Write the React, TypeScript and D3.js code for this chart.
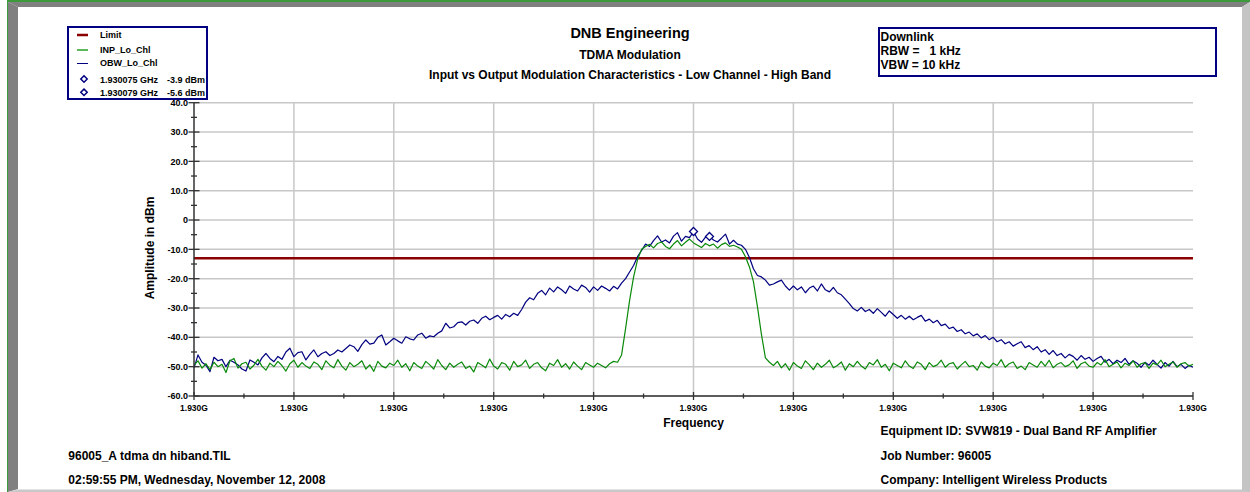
import React from 'react';
import * as d3 from 'd3';

// Sweep grid (GHz)
const sweepStartGHz = 1.92995;
const sweepStepGHz = 0.000001;
const axisMinGHz = 1.92995;
const axisMaxGHz = 1.9302;
const xMajorStepGHz = 0.000025;

const yMin = -60;
const yMax = 40;
const yTickValues = [40, 30, 20, 10, 0, -10, -20, -30, -40, -50, -60];

const limitDbm = -13;

// OBW_Lo_Chl (output), dBm, one value per sweep point
const obwLoChl = [
  -50.5, -46, -48.5, -49.5, -51.7, -46.8, -48, -47.5, -50, -47.8,
  -48.5, -49.4, -50.8, -51.5, -47.7, -48.5, -49.4, -47, -45.5, -47.2,
  -48.3, -46.5, -47.5, -45, -43.7, -46.6, -45.2, -44.9, -47.7, -45.8,
  -44.3, -46.6, -45.5, -44.9, -46.2, -45.5, -44.3, -45, -43.8, -42.6,
  -43.2, -44.8, -42.5, -40.9, -42.3, -42, -40, -39.2, -42.6, -41.5,
  -40.3, -41.2, -42, -39.8, -40.5, -40.9, -39.2, -38.6, -40.3, -39.5,
  -39.8, -38.6, -37.8, -35.2, -36.8, -36.4, -35, -34.7, -35.8, -34.5,
  -34.1, -35.2, -33.5, -32.8, -34, -33.2, -32.5, -33.8, -32.2, -33,
  -31.8, -32.5, -30.5, -28, -26.5, -27.2, -25, -24, -25.5, -23.2,
  -24.5, -22.8, -23.8, -25, -22.5, -23.5, -24.2, -22.2, -23, -24.6,
  -22.8, -24, -22.5, -23.3, -24.2, -22.6, -23.5, -21.5, -20, -17.7,
  -15.5, -12.5, -10.4, -8.2, -9, -7, -5.4, -7.5, -6.8, -7.8,
  -5.5, -4.3, -7.2, -5.6, -6, -3.9, -6.5, -7.6, -5.8, -5.6,
  -6.8, -7.5, -6.2, -4.8, -8.2, -6.9, -8.2, -8.6, -10, -12.8,
  -16.6, -18.9, -19.4, -20.5, -22.2, -21.8, -21.1, -20.5, -22.5, -23.9,
  -22.5, -23.8, -22.8, -24.8, -23.2, -22.5, -24.2, -21.8, -23.8, -24.5,
  -23, -24.8, -25.5, -27, -28.5, -30.2, -31, -29.8, -31.2, -30.5,
  -31.8, -30.2, -31.5, -32.8, -31, -32.2, -33.5, -32.5, -33.8, -32.8,
  -34, -33.2, -32.5, -34.5, -33.8, -35, -34.2, -36, -35.5, -37,
  -36.5, -38, -37.4, -38.8, -38.2, -39.5, -38.8, -40.2, -39.4, -40.8,
  -40, -41.5, -40.8, -42.2, -41.5, -43, -42.2, -41.5, -43.5, -42.8,
  -44.2, -43.2, -45, -44.2, -45.8, -44.5, -46.2, -45.5, -47, -45.8,
  -46.5, -47.8, -46.2, -47.5, -46.8, -48.2, -47.2, -46.5, -48.5, -47.5,
  -49, -47.8, -48.6, -47.2, -49.2, -48, -48.8, -50.2, -48.5, -49.5,
  -47.8, -49.2, -50.5, -48.6, -49.8, -48.2, -50, -49.2, -50.6, -49.5,
  -50.2,
];

// INP_Lo_Chl (input), dBm
const inpLoChl = [
  -49.5, -48, -50.5, -49, -51, -48.5, -50, -49.2, -52, -48,
  -47.2, -50.5, -49, -48.5, -50.8, -49.5, -47.5, -49.8, -51.2, -48.8,
  -50, -48.2, -49.6, -51.5, -49, -47.8, -50.2, -48.6, -49.8, -50.6,
  -48.4, -49.2, -51, -48, -49.5, -50.4, -47.6, -49.8, -51.2, -48.6,
  -50, -49.2, -48, -50.8, -49.4, -51.6, -48.2, -49.8, -50.4, -48.8,
  -49.6, -47.8, -50.2, -49, -51.4, -48.6, -49.8, -50.6, -48.2, -49.4,
  -50.8, -47.6, -49.6, -51, -48.8, -50.2, -49.2, -48.4, -50.6, -49.8,
  -51.8, -48.6, -49.4, -50.4, -47.4, -49.8, -50.8, -48.6, -49.2, -51.2,
  -48.2, -50, -49.4, -47.8, -50.6, -49.2, -48.6, -50.4, -51.4, -48.8,
  -49.6, -47.6, -50.2, -49, -50.8, -48.4, -49.8, -51, -48.6, -49.4,
  -50.2, -48.8, -49.6, -50.4, -49, -48.2, -48.5, -46, -37, -27.5,
  -19.5, -13.5, -10, -9, -8.3, -9.5, -8, -7.5, -9, -9.8,
  -8.2, -7, -8.8, -7.6, -6.5, -7.8, -8.6, -9.4, -8, -8.8,
  -8.2, -9.6, -8.4, -7.8, -9, -8.6, -9.2, -10, -12.5, -16,
  -21, -29.5, -39, -47, -48.5, -49.6, -48.2, -50.4, -49, -51.2,
  -48.6, -49.8, -50.6, -48, -49.4, -51, -48.8, -50.2, -49.2, -47.8,
  -50.4, -49.6, -48.4, -51.2, -49, -50, -48.2, -49.8, -50.8, -48.6,
  -49.4, -47.6, -50.2, -49.2, -51.4, -48.8, -49.6, -50.4, -48, -49.8,
  -50.6, -48.4, -49.2, -51, -48.6, -50, -49.4, -47.8, -50.2, -49,
  -48.6, -50.8, -49.4, -48.2, -50, -49.6, -51.2, -48.4, -49.8, -50.4,
  -48.8, -49.6, -47.6, -50.2, -49, -48.4, -50.6, -49.8, -51, -48.6,
  -49.4, -50.2, -48.2, -49.8, -47.8, -50.4, -49.2, -48.6, -50, -49.4,
  -48, -50.6, -49, -48.4, -49.8, -50.2, -48.6, -49.4, -47.6, -50,
  -49.2, -48.4, -50.4, -48.8, -49.6, -48, -50.2, -49, -48.6, -50.6,
  -48.8, -49.4, -47.8, -50, -49.2, -48.4, -50.2, -49, -48.6, -49.8,
  -49.2,
];

const markerFreqsGHz = [1.930075, 1.930079];
const markerLevelsDbm = [-3.9, -5.6];

const seriesNames = ['Limit', 'INP_Lo_Chl', 'OBW_Lo_Chl'];

const titleLines = [
  'DNB Engineering',
  'TDMA Modulation',
  'Input vs Output Modulation Characteristics - Low Channel - High Band',
];
const infoBoxLines = ['Downlink', 'RBW =   1 kHz', 'VBW = 10 kHz'];
const footerLeft = ['96005_A tdma dn hiband.TIL', '02:59:55 PM, Wednesday, November 12, 2008'];
const footerRight = [
  'Equipment ID: SVW819 - Dual Band RF Amplifier',
  'Job Number: 96005',
  'Company: Intelligent Wireless Products',
];

const FONT = "'Liberation Sans', Arial, Helvetica, sans-serif";
const NAVY = '#000080';
const GREEN = '#0a8a0a';
const LIMIT_RED = '#8b0000';
const GRID = '#c8c8c8';
const AXIS = '#333333';

export default function App() {
  const W = 1250;
  const H = 492;
  const plot = { left: 194, right: 1193, top: 102.7, bottom: 396 };

  const x = d3.scaleLinear().domain([axisMinGHz, axisMaxGHz]).range([plot.left, plot.right]);
  const y = d3.scaleLinear().domain([yMin, yMax]).range([plot.bottom, plot.top]);

  const freqAt = (i: number) => sweepStartGHz + i * sweepStepGHz;
  const line = d3
    .line<number>()
    .x((_, i) => x(freqAt(i)))
    .y((d) => y(d));

  const nMajor = Math.round((axisMaxGHz - axisMinGHz) / xMajorStepGHz);
  const xMajor = d3.range(nMajor + 1).map((i) => axisMinGHz + i * xMajorStepGHz);
  const xMinor = d3.range(nMajor).map((i) => axisMinGHz + (i + 0.5) * xMajorStepGHz);
  const yMinor = d3.range(yMin + 5, yMax, 10);
  const fmtX = (v: number) => d3.format('.3f')(v) + 'G';
  const fmtY = (v: number) => (v === 0 ? '0' : v.toFixed(1));

  const diamond = (cx: number, cy: number, r: number) =>
    `M${cx},${cy - r}L${cx + r},${cy}L${cx},${cy + r}L${cx - r},${cy}Z`;

  return (
    <div style={{ position: 'absolute', left: 0, top: 0 }}>
      <svg width={W} height={H} style={{ display: 'block' }} fontFamily={FONT}>
        <rect x={0} y={0} width={W} height={H} fill="#ffffff" />
        {/* frame */}
        <polygon points="8,2 1250,2 1242,7 18,7" fill="#808080" />
        <polygon points="8,2 18,7 18,489 8,492" fill="#808080" />
        <polygon points="1242,7 1250,2 1250,492 1242,492" fill="#c4c4c4" />
        <polygon points="8,492 18,489.5 1242,489.5 1250,492" fill="#c8c8c8" />
        <rect x={7} y={0} width={1243} height={2} fill="#3c9a3c" />
        <rect x={7} y={0} width={1} height={492} fill="#3c9a3c" />

        {/* titles */}
        <text x={630} y={38} textAnchor="middle" fontWeight="bold" fontSize={14.5}>
          {titleLines[0]}
        </text>
        <text x={630} y={59} textAnchor="middle" fontWeight="bold" fontSize={12}>
          {titleLines[1]}
        </text>
        <text x={630} y={79} textAnchor="middle" fontWeight="bold" fontSize={12}>
          {titleLines[2]}
        </text>

        {/* info box */}
        <rect x={879} y={28} width={337} height={48} fill="#fff" stroke={NAVY} strokeWidth={2} />
        {infoBoxLines.map((t, i) => (
          <text key={t} x={880.5} y={40.5 + i * 14} fontWeight="bold" fontSize={12} xmlSpace="preserve" style={{ whiteSpace: 'pre' }}>
            {t}
          </text>
        ))}

        {/* grid */}
        {xMajor.slice(1, -1).map((v) => (
          <line key={'gx' + v} x1={x(v)} x2={x(v)} y1={plot.top} y2={plot.bottom} stroke={GRID} strokeWidth={1.5} />
        ))}
        {yTickValues.map((v) => (
          <line key={'gy' + v} x1={plot.left} x2={plot.right} y1={y(v)} y2={y(v)} stroke={GRID} strokeWidth={1.5} />
        ))}

        {/* limit */}
        <line x1={plot.left} x2={plot.right} y1={y(limitDbm)} y2={y(limitDbm)} stroke={LIMIT_RED} strokeWidth={2.5} />

        {/* traces */}
        <path d={line(obwLoChl) || ''} fill="none" stroke={NAVY} strokeWidth={1.2} strokeLinejoin="round" />
        <path d={line(inpLoChl) || ''} fill="none" stroke={GREEN} strokeWidth={1.2} strokeLinejoin="round" />

        {/* markers */}
        {markerFreqsGHz.map((f, i) => (
          <path key={'mk' + i} d={diamond(x(f), y(markerLevelsDbm[i]), 4)} fill="#fff" stroke={NAVY} strokeWidth={1.3} />
        ))}

        {/* axes */}
        <line x1={plot.left} x2={plot.left} y1={plot.top} y2={plot.bottom} stroke={AXIS} strokeWidth={1.5} />
        <line x1={plot.left} x2={plot.right} y1={plot.bottom} y2={plot.bottom} stroke={AXIS} strokeWidth={1.5} />
        {yTickValues.map((v) => (
          <g key={'ty' + v}>
            <line x1={188.5} x2={199.5} y1={y(v)} y2={y(v)} stroke={AXIS} strokeWidth={1.3} />
            <text x={188} y={y(v)} dy="0.35em" textAnchor="end" fontWeight="bold" fontSize={9}>
              {fmtY(v)}
            </text>
          </g>
        ))}
        {yMinor.map((v) => (
          <line key={'my' + v} x1={191} x2={197} y1={y(v)} y2={y(v)} stroke={AXIS} strokeWidth={1.3} />
        ))}
        {xMajor.map((v, i) => (
          <g key={'tx' + i}>
            <line x1={x(v)} x2={x(v)} y1={392} y2={400} stroke={AXIS} strokeWidth={1.3} />
            <text x={x(v)} y={411.3} textAnchor="middle" fontWeight="bold" fontSize={8.5}>
              {fmtX(v)}
            </text>
          </g>
        ))}
        {xMinor.map((v, i) => (
          <line key={'mx' + i} x1={x(v)} x2={x(v)} y1={393.5} y2={398.5} stroke={AXIS} strokeWidth={1.3} />
        ))}

        {/* axis titles */}
        <text x={693.5} y={427.3} textAnchor="middle" fontWeight="bold" fontSize={12}>
          Frequency
        </text>
        <text transform="translate(154.3,248) rotate(-90)" textAnchor="middle" fontWeight="bold" fontSize={12}>
          Amplitude in dBm
        </text>

        {/* legend */}
        <rect x={68} y={27} width={139} height={72} fill="#fff" stroke={NAVY} strokeWidth={2} />
        <line x1={77} x2={88} y1={35} y2={35} stroke={LIMIT_RED} strokeWidth={2.5} />
        <line x1={77} x2={88} y1={50} y2={50} stroke="#5cb85c" strokeWidth={2} />
        <line x1={77} x2={88} y1={63.5} y2={63.5} stroke={NAVY} strokeWidth={1} />
        {seriesNames.map((s, i) => (
          <text key={s} x={100} y={[38.3, 53, 66][i]} fontWeight="bold" fontSize={9}>
            {s}
          </text>
        ))}
        {markerFreqsGHz.map((f, i) => (
          <g key={'lm' + i}>
            <path d={diamond(84, 79 + i * 13.3, 3.2)} fill="#fff" stroke={NAVY} strokeWidth={1.5} />
            <text x={100} y={82.5 + i * 13} fontWeight="bold" fontSize={9}>
              {d3.format('.6f')(f) + ' GHz'}
            </text>
            <text x={167} y={82.5 + i * 13} fontWeight="bold" fontSize={9}>
              {markerLevelsDbm[i].toFixed(1) + ' dBm'}
            </text>
          </g>
        ))}

        {/* footer */}
        {footerLeft.map((t, i) => (
          <text key={t} x={68.3} y={460 + i * 24} fontWeight="bold" fontSize={12}>
            {t}
          </text>
        ))}
        {footerRight.map((t, i) => (
          <text key={t} x={880.5} y={435 + i * 24.5} fontWeight="bold" fontSize={12}>
            {t}
          </text>
        ))}
      </svg>
    </div>
  );
}
